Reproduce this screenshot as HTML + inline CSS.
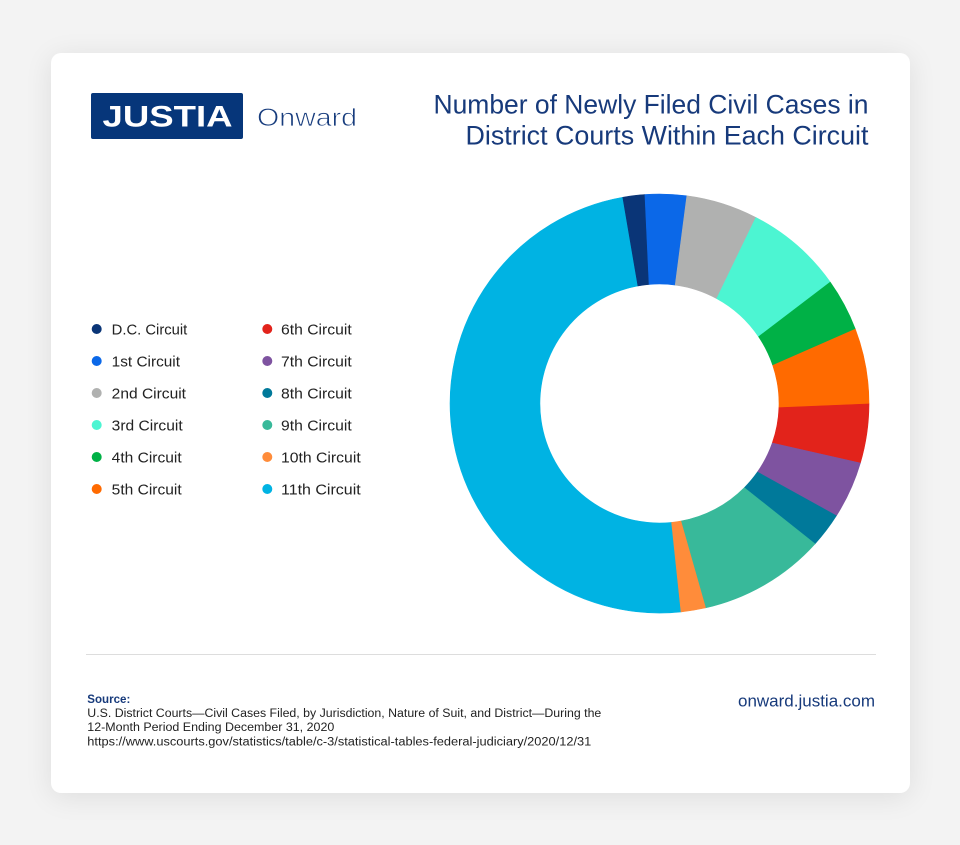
<!DOCTYPE html>
<html>
<head>
<meta charset="utf-8">
<style>
  html,body{margin:0;padding:0;}
  body{width:960px;height:845px;background:#f3f3f3;position:relative;overflow:hidden;}
  .card{position:absolute;left:51px;top:53px;width:859px;height:740px;background:#fff;border-radius:10px;box-shadow:0 4px 28px rgba(0,0,0,0.09);}
  svg{position:absolute;left:0;top:0;}
  text{font-family:"Liberation Sans",sans-serif;}
</style>
</head>
<body>
<div class="card"></div>
<svg width="960" height="845" viewBox="0 0 960 845" xmlns="http://www.w3.org/2000/svg">
  <!-- Logo -->
  <rect x="91" y="93" width="152" height="46" rx="2" fill="#06367a"/>
  <text x="102.5" y="126.7" font-size="30" font-weight="bold" fill="#ffffff" textLength="130" lengthAdjust="spacingAndGlyphs">JUSTIA</text>
  <text x="257" y="126" font-size="25" fill="#173c7d" stroke="#ffffff" stroke-width="0.7" textLength="100" lengthAdjust="spacingAndGlyphs">Onward</text>

  <!-- Title -->
  <text x="868.5" y="113.3" font-size="27" fill="#173a7b" text-anchor="end" textLength="435" lengthAdjust="spacingAndGlyphs">Number of Newly Filed Civil Cases in</text>
  <text x="868.5" y="144.3" font-size="27" fill="#173a7b" text-anchor="end" textLength="403" lengthAdjust="spacingAndGlyphs">District Courts Within Each Circuit</text>

  <!-- Legend -->
  <g font-size="14.5" fill="#222">
    <circle cx="96.7" cy="329" r="5" fill="#0a3577"/>
    <text x="111.7" y="334.3" textLength="75.6" lengthAdjust="spacingAndGlyphs">D.C. Circuit</text>
    <circle cx="96.7" cy="361" r="5" fill="#0b68e8"/>
    <text x="111.7" y="366.3" textLength="68.3" lengthAdjust="spacingAndGlyphs">1st Circuit</text>
    <circle cx="96.7" cy="393" r="5" fill="#b0b1b0"/>
    <text x="111.7" y="398.3" textLength="74.3" lengthAdjust="spacingAndGlyphs">2nd Circuit</text>
    <circle cx="96.7" cy="425" r="5" fill="#4cf5d2"/>
    <text x="111.7" y="430.3" textLength="71" lengthAdjust="spacingAndGlyphs">3rd Circuit</text>
    <circle cx="96.7" cy="457" r="5" fill="#00b146"/>
    <text x="111.7" y="462.3" textLength="70" lengthAdjust="spacingAndGlyphs">4th Circuit</text>
    <circle cx="96.7" cy="489" r="5" fill="#ff6a00"/>
    <text x="111.7" y="494.3" textLength="70" lengthAdjust="spacingAndGlyphs">5th Circuit</text>

    <circle cx="267.3" cy="329" r="5" fill="#e2231b"/>
    <text x="281" y="334.3" textLength="70.7" lengthAdjust="spacingAndGlyphs">6th Circuit</text>
    <circle cx="267.3" cy="361" r="5" fill="#7e53a0"/>
    <text x="281" y="366.3" textLength="70.7" lengthAdjust="spacingAndGlyphs">7th Circuit</text>
    <circle cx="267.3" cy="393" r="5" fill="#00799a"/>
    <text x="281" y="398.3" textLength="70.7" lengthAdjust="spacingAndGlyphs">8th Circuit</text>
    <circle cx="267.3" cy="425" r="5" fill="#38b99a"/>
    <text x="281" y="430.3" textLength="70.7" lengthAdjust="spacingAndGlyphs">9th Circuit</text>
    <circle cx="267.3" cy="457" r="5" fill="#ff8c3a"/>
    <text x="281" y="462.3" textLength="79.7" lengthAdjust="spacingAndGlyphs">10th Circuit</text>
    <circle cx="267.3" cy="489" r="5" fill="#00b3e3"/>
    <text x="281" y="494.3" textLength="79.7" lengthAdjust="spacingAndGlyphs">11th Circuit</text>
  </g>

  <!-- Donut -->
  <g stroke-width="0.6" stroke-linejoin="round">
    <path fill="#00b3e3" stroke="#00b3e3" d="M681.03 611.89 A209.5 209.5 0 0 1 622.76 197.25 L637.93 285.96 A119.5 119.5 0 0 0 671.58 522.39 Z"/>
    <path fill="#0a3577" stroke="#0a3577" d="M622.76 197.25 A209.5 209.5 0 0 1 644.89 194.51 L649.08 284.45 A119.5 119.5 0 0 0 637.93 285.96 Z"/>
    <path fill="#0b68e8" stroke="#0b68e8" d="M644.89 194.51 A209.5 209.5 0 0 1 686.85 195.79 L675.2 285.04 A119.5 119.5 0 0 0 649.08 284.45 Z"/>
    <path fill="#b0b1b0" stroke="#b0b1b0" d="M686.85 195.79 A209.5 209.5 0 0 1 755.91 217.5 L716.7 298.58 A119.5 119.5 0 0 0 675.2 285.04 Z"/>
    <path fill="#4cf5d2" stroke="#4cf5d2" d="M755.91 217.5 A209.5 209.5 0 0 1 830.27 282.14 L758.57 336.68 A119.5 119.5 0 0 0 716.7 298.58 Z"/>
    <path fill="#00b146" stroke="#00b146" d="M830.27 282.14 A209.5 209.5 0 0 1 855.35 329.10 L772.76 365.38 A119.5 119.5 0 0 0 758.57 336.68 Z"/>
    <path fill="#ff6a00" stroke="#ff6a00" d="M855.35 329.10 A209.5 209.5 0 0 1 869.0 403.87 L778.93 407.67 A119.5 119.5 0 0 0 772.76 365.38 Z"/>
    <path fill="#e2231b" stroke="#e2231b" d="M869.0 403.87 A209.5 209.5 0 0 1 860.37 463.0 L772.28 443.0 A119.5 119.5 0 0 0 778.93 407.67 Z"/>
    <path fill="#7e53a0" stroke="#7e53a0" d="M860.37 463.0 A209.5 209.5 0 0 1 836.39 515.76 L757.39 472.04 A119.5 119.5 0 0 0 772.28 443.0 Z"/>
    <path fill="#00799a" stroke="#00799a" d="M836.39 515.76 A209.5 209.5 0 0 1 814.98 543.91 L744.29 487.7 A119.5 119.5 0 0 0 757.39 472.04 Z"/>
    <path fill="#38b99a" stroke="#38b99a" d="M814.98 543.91 A209.5 209.5 0 0 1 705.56 607.87 L680.87 521.07 A119.5 119.5 0 0 0 744.29 487.7 Z"/>
    <path fill="#ff8c3a" stroke="#ff8c3a" d="M705.56 607.87 A209.5 209.5 0 0 1 681.03 611.89 L671.58 522.39 A119.5 119.5 0 0 0 680.87 521.07 Z"/>
  </g>

  <!-- Divider -->
  <rect x="86" y="654" width="790" height="1" fill="#dddddd"/>

  <!-- Footer -->
  <text x="87.3" y="702.8" font-size="11.5" font-weight="bold" fill="#173a7b" textLength="43" lengthAdjust="spacingAndGlyphs">Source:</text>
  <g font-size="11.5" fill="#222">
    <text x="87.3" y="716.8" textLength="514" lengthAdjust="spacingAndGlyphs">U.S. District Courts—Civil Cases Filed, by Jurisdiction, Nature of Suit, and District—During the</text>
    <text x="87.3" y="731.2" textLength="247" lengthAdjust="spacingAndGlyphs">12-Month Period Ending December 31, 2020</text>
    <text x="87.3" y="745.7" textLength="504" lengthAdjust="spacingAndGlyphs">https://www.uscourts.gov/statistics/table/c-3/statistical-tables-federal-judiciary/2020/12/31</text>
  </g>
  <text x="875" y="706.7" font-size="16.5" fill="#173a7b" text-anchor="end" textLength="137" lengthAdjust="spacingAndGlyphs">onward.justia.com</text>
</svg>
</body>
</html>
